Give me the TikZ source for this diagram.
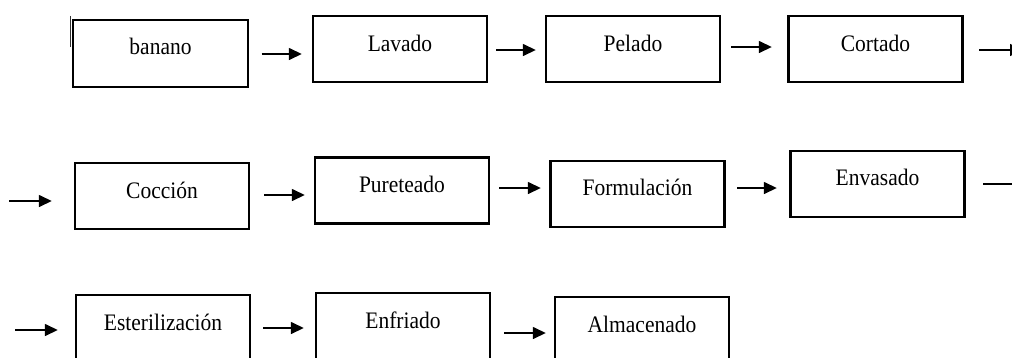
\documentclass[tikz,border=0pt]{standalone}
\usepackage{fontspec}
\setmainfont{Liberation Serif}
\usetikzlibrary{arrows.meta,calc}
\tikzset{
  stepbox/.style={draw, line width=2.4pt, minimum width=174pt, minimum height=66pt, inner sep=0pt, font=\fontsize{21.5}{24}\selectfont},
  arr/.style={line width=1.5pt, -{Triangle[length=13pt,width=12pt]}},
}
\newcommand{\bt}[2][-2pt]{\raisebox{#1}[0pt][0pt]{\scalebox{1}[1.1]{#2}}}
\begin{document}
\begin{tikzpicture}[x=1pt,y=-1pt]
\useasboundingbox (0,0) rectangle (1012,357);
\clip (0,0) rectangle (1012,357);
% row 1
\node[stepbox, minimum width=175pt, minimum height=67pt] (banano) at (160.5,53.5) {\bt[-0.5pt]{banano}};
\node[stepbox] (lavado)  at (400,49)   {\bt{Lavado}};
\node[stepbox] (pelado)  at (633,49)   {\bt{Pelado}};
\node[stepbox] (cortado) at (875.5,49) {\bt{Cortado}};
% row 2
\node[stepbox] (coccion)  at (162,196)   {\bt{Cocción}};
\node[stepbox] (pure)     at (402,190.5) {\bt[-1.5pt]{Pureteado}};
\node[stepbox] (formul)   at (637.5,194) {\bt[-1pt]{Formulación}};
\node[stepbox] (envasado) at (877.5,184) {\bt[-1pt]{Envasado}};
% row 3
\node[stepbox] (ester)    at (163,328) {\bt{Esterilización}};
\node[stepbox] (enfriado) at (403,326) {\bt{Enfriado}};
\node[stepbox] (almac)    at (642,330) {\bt{Almacenado}};
% free ends
\coordinate (out1) at (1023,50);
\coordinate (in2)  at (9,201);
\coordinate (out2) at (1032,184);
\coordinate (in3)  at (15,330);
% small mark
\draw[line width=1pt, black!80] ($(banano.north west)+(-1.5,-3)$) -- ++(0,31);
% arrows row 1
\draw[arr] ($(banano.east)+(12.5,0.5)$) -- ($(lavado.west)+(-10,5)$);
\draw[arr] ($(lavado.east)+(8,1)$) -- ($(pelado.west)+(-9,1)$);
\draw[arr] ($(pelado.east)+(10,-2)$) -- ($(cortado.west)+(-15.5,-2)$);
\draw[arr] ($(cortado.east)+(15.5,1)$) -- (out1);
% arrows row 2
\draw[arr] (in2) -- ($(coccion.west)+(-22,5)$);
\draw[arr] ($(coccion.east)+(14,-1)$) -- ($(pure.west)+(-9,4.5)$);
\draw[arr] ($(pure.east)+(9,-2.5)$) -- ($(formul.west)+(-8.5,-6)$);
\draw[arr] ($(formul.east)+(11.5,-6)$) -- ($(envasado.west)+(-12.5,4)$);
\draw[arr] ($(envasado.east)+(17.5,0)$) -- (out2);
% arrows row 3
\draw[arr] (in3) -- ($(ester.west)+(-17,2)$);
\draw[arr] ($(ester.east)+(12,0)$) -- ($(enfriado.west)+(-11,2)$);
\draw[arr] ($(enfriado.east)+(13,7)$) -- ($(almac.west)+(-8,3)$);
\end{tikzpicture}
\end{document}
